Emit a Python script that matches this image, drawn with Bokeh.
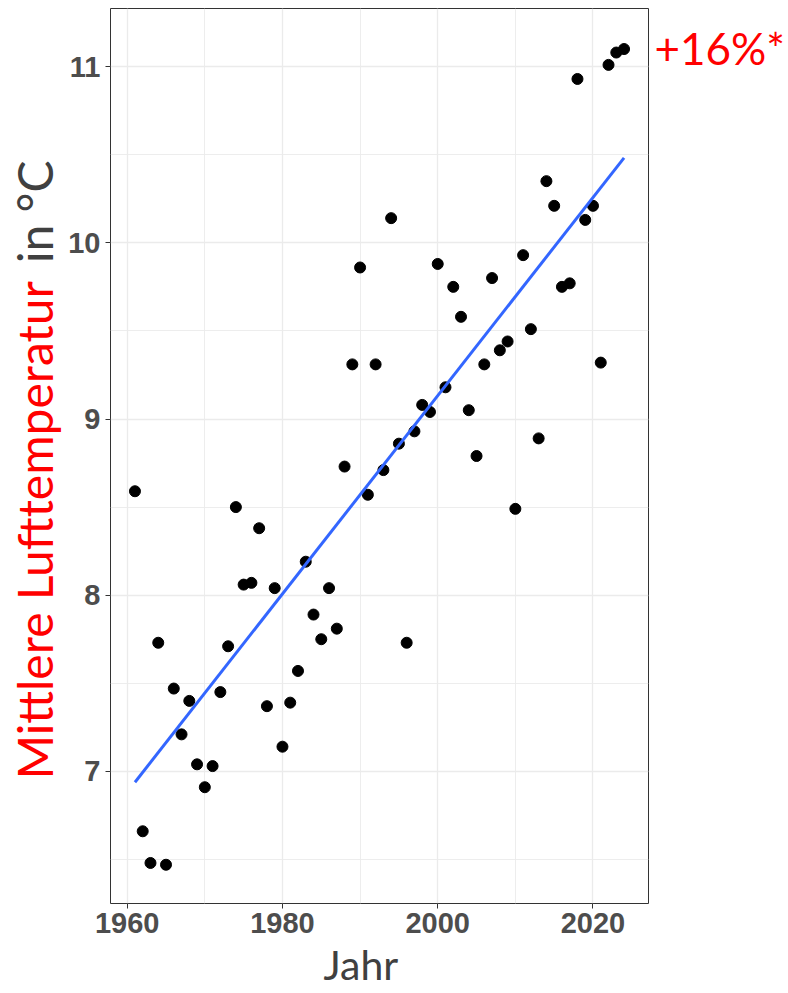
import numpy as np
from bokeh.plotting import figure
from bokeh.layouts import row, column
from bokeh.models import Range1d, FixedTicker, Label, Title
from bokeh.embed import file_html
from bokeh.resources import INLINE

# ---- data ----
years = [1961, 1962, 1963, 1964, 1965, 1966, 1967, 1968, 1969, 1970,
         1971, 1972, 1973, 1974, 1975, 1976, 1977, 1978, 1979, 1980,
         1981, 1982, 1983, 1984, 1985, 1986, 1987, 1988, 1989, 1990,
         1991, 1992, 1993, 1994, 1995, 1996, 1997, 1998, 1999, 2000,
         2001, 2002, 2003, 2004, 2005, 2006, 2007, 2008, 2009, 2010,
         2011, 2012, 2013, 2014, 2015, 2016, 2017, 2018, 2019, 2020,
         2021, 2022, 2023, 2024]
temps = [8.59, 6.66, 6.48, 7.73, 6.47, 7.47, 7.21, 7.40, 7.04, 6.91,
         7.03, 7.45, 7.71, 8.50, 8.06, 8.07, 8.38, 7.37, 8.04, 7.14,
         7.39, 7.57, 8.19, 7.89, 7.75, 8.04, 7.81, 8.73, 9.31, 9.86,
         8.57, 9.31, 8.71, 10.14, 8.86, 7.73, 8.93, 9.08, 9.04, 9.88,
         9.18, 9.75, 9.58, 9.05, 8.79, 9.31, 9.80, 9.39, 9.44, 8.49,
         9.93, 9.51, 8.89, 10.35, 10.21, 9.75, 9.77, 10.93, 10.13, 10.21,
         9.32, 11.01, 11.08, 11.10]
x_ticks = [1960, 1980, 2000, 2020]
x_minor = [1950, 1970, 1990, 2010, 2030]
y_ticks = [7, 8, 9, 10, 11]
y_minor = [6.5, 7.5, 8.5, 9.5, 10.5, 11.5]

y_title_main = "Mittlere Lufttemperatur"
y_title_unit = "in °C"
x_title = "Jahr"
note = "+16%*"

RED = "#FF0000"
GREY_TXT = "#404040"

# ---- layout sizes (px) ----
TOTAL_W, TOTAL_H = 788, 993
LW = 64            # left strip with the y title
RW = 138           # right strip with the note
MW = TOTAL_W - LW - RW
FRAME_L, FRAME_R, FRAME_T, FRAME_B = 110, 648, 8, 903
SPLIT = 270        # where the left strip is split between the two title parts

X0, X1 = 1957.85, 2027.15
Y0, Y1 = 6.25, 11.33


def strip(w, h, **kw):
    f = figure(width=w, height=h, x_range=Range1d(0, w), y_range=Range1d(0, h),
               output_backend="svg", toolbar_location=None,
               x_axis_type=None, y_axis_type=None, min_border=0, **kw)
    f.outline_line_color = None
    f.background_fill_color = "white"
    f.border_fill_color = "white"
    return f


# ---- main plot ----
p = figure(width=MW, height=TOTAL_H, x_range=Range1d(X0, X1), y_range=Range1d(Y0, Y1),
           output_backend="svg", toolbar_location=None,
           min_border_left=FRAME_L - LW, min_border_right=MW - (FRAME_R - LW),
           min_border_top=FRAME_T, min_border_bottom=TOTAL_H - FRAME_B)
p.background_fill_color = "white"
p.border_fill_color = "white"
p.outline_line_color = "#333333"
p.outline_line_width = 1

p.xgrid.ticker = FixedTicker(ticks=x_ticks, minor_ticks=x_minor)
p.ygrid.ticker = FixedTicker(ticks=y_ticks, minor_ticks=y_minor)
for g in (p.xgrid, p.ygrid):
    g.grid_line_color = "#EBEBEB"
    g.grid_line_width = 1.3
    g.minor_grid_line_color = "#EBEBEB"
    g.minor_grid_line_width = 0.9

p.xaxis.ticker = FixedTicker(ticks=x_ticks)
p.yaxis.ticker = FixedTicker(ticks=y_ticks)
for ax in (p.xaxis, p.yaxis):
    ax.axis_line_color = None
    ax.major_tick_line_color = "#333333"
    ax.major_tick_line_width = 1
    ax.major_tick_out = 5
    ax.major_tick_in = 0
    ax.minor_tick_line_color = None
    ax.major_label_text_font = "Liberation Sans"
    ax.major_label_text_font_style = "bold"
    ax.major_label_text_font_size = "29px"
    ax.major_label_text_color = "#4D4D4D"
p.xaxis.major_label_standoff = 4
p.yaxis.major_label_standoff = 5

# x title below the axis, left edge of "Jahr" at x = 323 px
p.add_layout(Title(text=x_title, align="left", offset=323 - FRAME_L, standoff=4,
                   text_font="Lato", text_font_size="41px", text_font_style="normal",
                   text_color=GREY_TXT), "below")

p.scatter(years, temps, size=11, color="black")

coef = np.polyfit(years, temps, 1)
xfit = np.array([min(years), max(years)], dtype=float)
yfit = np.polyval(coef, xfit)
p.line(xfit, yfit, line_color="#3366FF", line_width=3)

# ---- left strip: two-coloured y title, as two vertical titles ----
left_top = strip(LW, SPLIT, min_border_left=LW - 2)
left_top.add_layout(Title(text=y_title_unit, align="right", offset=160, standoff=0,
                          text_font="Lato", text_font_size="48px", text_font_style="normal",
                          text_color=GREY_TXT), "left")
left_bot = strip(LW, TOTAL_H - SPLIT, min_border_left=LW - 2)
left_bot.add_layout(Title(text=y_title_main, align="left", offset=TOTAL_H - 779, standoff=0,
                          text_font="Lato", text_font_size="48px", text_font_style="normal",
                          text_color=RED), "left")
left = column(left_top, left_bot, spacing=0)

# ---- right strip: note ----
right = strip(RW, TOTAL_H)
right.add_layout(Label(x=654 - (LW + MW), y=TOTAL_H - 63 + 19, text=note,
                       text_align="left", text_baseline="alphabetic",
                       text_font="Lato", text_font_size="44px", text_color=RED))

layout = row(left, p, right, spacing=0)

open("out.html", "w").write(file_html(layout, INLINE))
